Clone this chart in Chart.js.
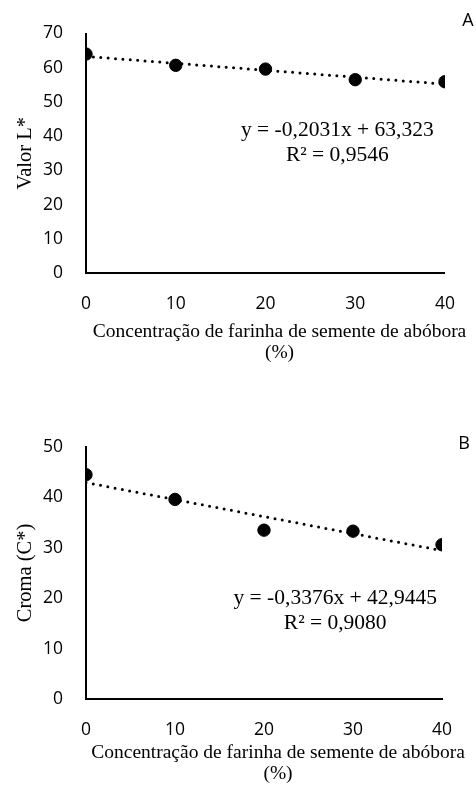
<!DOCTYPE html>
<html>
<head>
<meta charset="utf-8">
<script src="https://cdn.jsdelivr.net/npm/chart.js@4.4.1/dist/chart.umd.min.js"></script>
<style>
  html, body { margin: 0; padding: 0; background: #fff; }
  .painel { position: relative; width: 476px; height: 395px; }
</style>
</head>
<body>
<div class="painel"><canvas id="graficoA" width="476" height="395"></canvas></div>
<div class="painel"><canvas id="graficoB" width="476" height="395"></canvas></div>
<script>
// Dados
var concentracao = [0, 10, 20, 30, 40];
var valorL = [64.0, 60.7, 59.6, 56.5, 55.9];
var croma = [44.5, 39.6, 33.5, 33.3, 30.6];
// linha de tendencia (extremos x=0 e x=40)
var tendX = [0, 40];
var tendL = [63.32, 55.2];
var tendC = [42.94, 29.44];
var eqL = ["y = -0,2031x + 63,323", "R\u00b2 = 0,9546"];
var eqC = ["y = -0,3376x + 42,9445", "R\u00b2 = 0,9080"];
var tituloX = ["Concentra\u00e7\u00e3o de farinha de semente de ab\u00f3bora", "(%)"];

function pares(xs, ys) {
  var out = [];
  for (var i = 0; i < xs.length; i++) out.push({x: xs[i], y: ys[i]});
  return out;
}

// textos extras: equacao, letra, titulo do eixo x
var textos = {
  id: 'textos',
  afterDraw: function(chart, args, opts) {
    var ctx = chart.ctx;
    var area = chart.chartArea;
    var sx = chart.scales.x, sy = chart.scales.y;
    ctx.save();
    ctx.fillStyle = '#000';
    ctx.textAlign = 'center';
    ctx.textBaseline = 'middle';
    // equacao
    ctx.font = '21.5px "Liberation Serif"';
    var ex = sx.getPixelForValue(opts.eqPos[0]);
    var ey = sy.getPixelForValue(opts.eqPos[1]);
    for (var i = 0; i < opts.eq.length; i++) {
      ctx.fillText(opts.eq[i], ex, ey + i * 25);
    }
    // letra
    ctx.font = '18px "Open Sans"';
    ctx.fillText(opts.letra, opts.letraPos[0], opts.letraPos[1]);
    // titulo eixo x
    ctx.font = '19.5px "Liberation Serif"';
    var cx = (area.left + area.right) / 2 + opts.desvioTitulo;
    for (var j = 0; j < tituloX.length; j++) {
      ctx.fillText(tituloX[j], cx, area.bottom + opts.tituloY + j * 21);
    }
    ctx.restore();
  }
};

function criaGrafico(id, ys, tend, yMax, yTitulo, cfg) {
  var ctx = document.getElementById(id).getContext('2d');
  return new Chart(ctx, {
    type: 'scatter',
    data: {
      datasets: [{
        label: 'dados',
        data: pares(concentracao, ys),
        backgroundColor: '#000',
        borderColor: '#000',
        pointRadius: 6.2,
        pointHoverRadius: 6.2
      }, {
        label: 'tendencia',
        data: pares(tendX, tend),
        showLine: true,
        borderColor: '#000',
        borderWidth: 3,
        borderDash: [0, 7.4],
        borderCapStyle: 'round',
        pointRadius: 0
      }]
    },
    options: {
      responsive: false,
      animation: false,
      layout: { padding: { left: 13, top: cfg.top, right: cfg.right, bottom: 0 } },
      plugins: {
        legend: { display: false },
        tooltip: { enabled: false },
        textos: cfg.textos
      },
      scales: {
        x: {
          type: 'linear',
          min: 0,
          max: 40,
          grid: { display: false, drawTicks: false },
          border: { display: true, color: '#000', width: 2 },
          ticks: { stepSize: 10, padding: 21, color: '#000', font: { family: 'Open Sans', size: 17.5 } },
          afterFit: function(scale) { scale.height = cfg.alturaX; }
        },
        y: {
          min: 0,
          max: yMax,
          grid: { display: false, drawTicks: false },
          border: { display: true, color: '#000', width: 2 },
          ticks: { stepSize: 10, padding: 23, color: '#000', font: { family: 'Open Sans', size: 17.5 } },
          title: { display: true, text: yTitulo, color: '#000', font: { family: 'Liberation Serif', size: 20.5 }, padding: 0 },
          afterFit: function(scale) { scale.width = 73; }
        }
      }
    },
    plugins: [textos]
  });
}

criaGrafico('graficoA', valorL, tendL, 70, 'Valor L*', {
  top: 22, right: 31, alturaX: 122,
  textos: { eq: eqL, eqPos: [28, 41.7], letra: 'A', letraPos: [468, 21], tituloY: 59, desvioTitulo: 14 }
});

criaGrafico('graficoB', croma, tendC, 50, 'Croma (C*)', {
  top: 52, right: 34, alturaX: 91,
  textos: { eq: eqC, eqPos: [28, 19.9], letra: 'B', letraPos: [464, 49], tituloY: 54, desvioTitulo: 14 }
});
</script>
</body>
</html>
